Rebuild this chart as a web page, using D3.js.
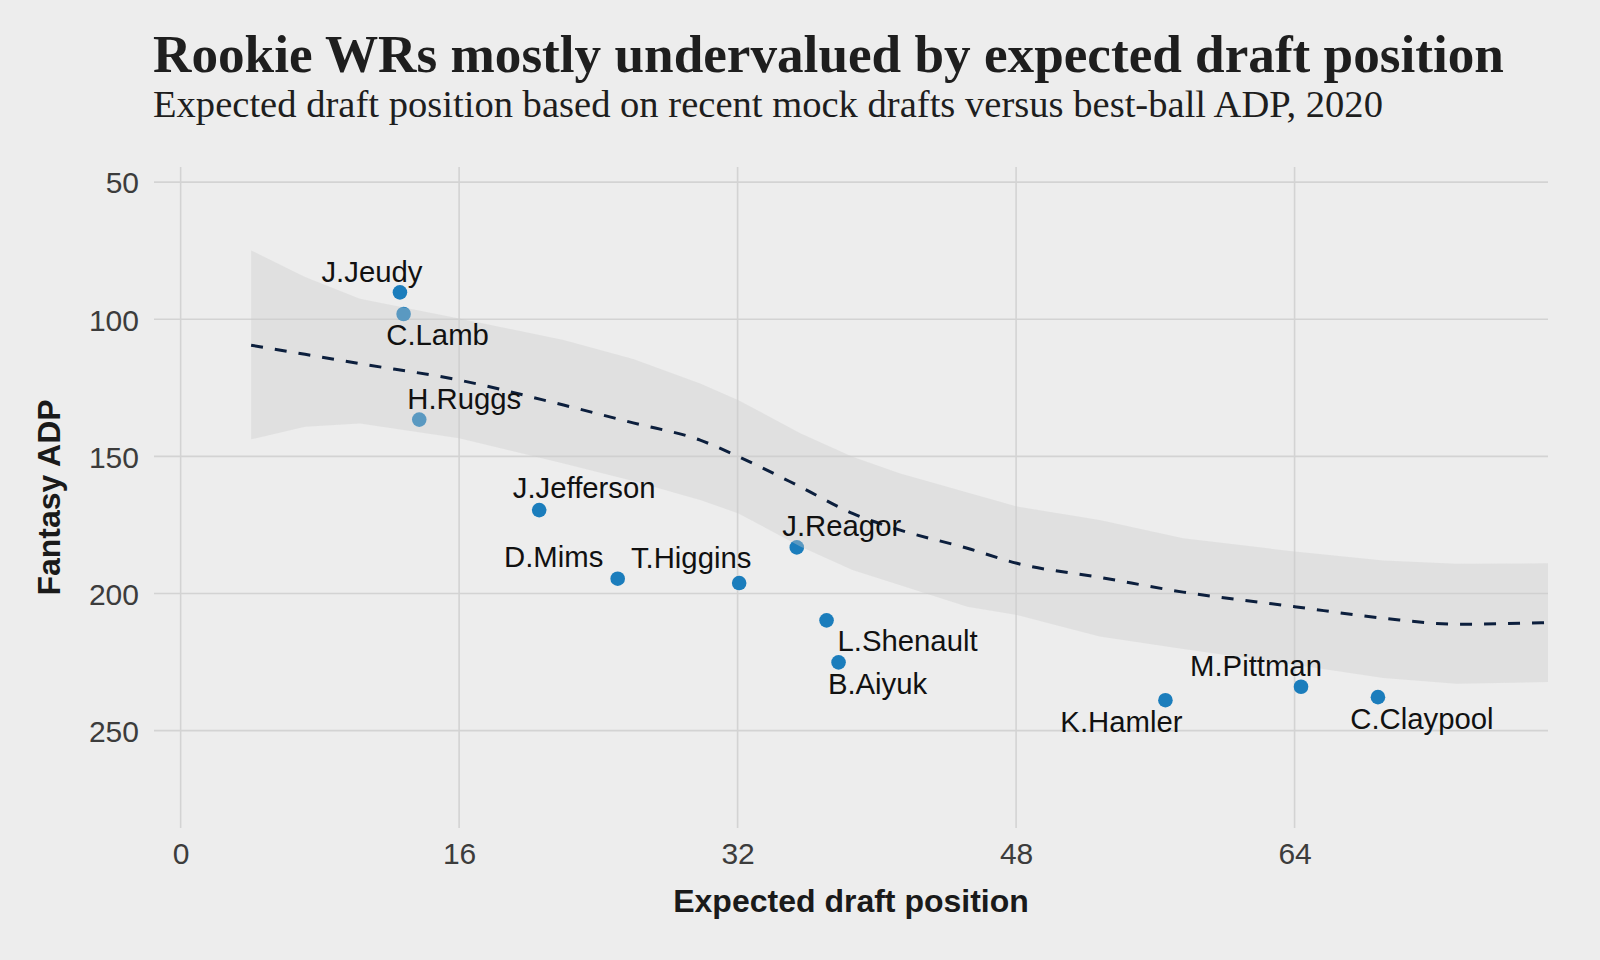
<!DOCTYPE html>
<html>
<head>
<meta charset="utf-8">
<script src="https://cdnjs.cloudflare.com/ajax/libs/d3/7.8.5/d3.min.js"></script>
<style>
  html, body { margin: 0; padding: 0; background: #ededed; }
  svg { display: block; }
</style>
</head>
<body>
<svg id="chart" width="1600" height="960"></svg>
<script>
// ---- data ----
const players   = ["J.Jeudy","C.Lamb","H.Ruggs","J.Jefferson","D.Mims","T.Higgins","J.Reagor","L.Shenault","B.Aiyuk","K.Hamler","M.Pittman","C.Claypool"];
const expected  = [12.60, 12.81, 13.71, 20.60, 25.11, 32.09, 35.40, 37.11, 37.80, 56.58, 64.37, 68.79];
const fantasyAdp = [90.2, 98.1, 136.6, 169.6, 194.6, 196.2, 183.2, 209.8, 225.1, 238.9, 234.0, 237.8];

// loess smooth
const smoothX   = [4.05, 7.15, 10.3, 16, 22, 26, 29.85, 32.05, 35.6, 38.6, 41.3, 45.2, 48.05, 52.8, 57.6, 64, 69.1, 73.3, 78.56];
const smoothFit = [109.5, 112.8, 116.2, 122.2, 131.3, 137.8, 144.1, 150.1, 161.1, 170.8, 176.8, 183.5, 189, 194.1, 199.5, 204.8, 209, 211.2, 210.6];
const smoothHi  = [74.9, 84.6, 92.5, 99.7, 107.6, 114.5, 123.4, 129.5, 141.6, 150.1, 156.2, 163.2, 168.3, 173.2, 179.9, 184.7, 188, 189.2, 189];
const smoothLo  = [143.8, 139.2, 138, 143.4, 152.6, 159, 165.9, 170.8, 182.9, 191.4, 196.9, 204.8, 207.8, 215.7, 220.2, 226, 230.8, 232.9, 232.3];

const xTicks = [0, 16, 32, 48, 64];
const yTicks = [50, 100, 150, 200, 250];

// label placement (pixel offsets from each point, like ggrepel output)
const labelDx = [-28, 34, 45, 45, -64, -48, 45, 81, 39, -44, -45, 44];
const labelDy = [-10, 31, -11, -12, -12, -15, -11, 31, 32, 32, -11, 32];

// ---- layout ----
const svg = d3.select("#chart");
const W = 1600, H = 960;
const panel = { left: 154, right: 1548, top: 167, bottom: 828 };

svg.append("rect").attr("width", W).attr("height", H).attr("fill", "#ededed");

const x = d3.scaleLinear().domain([-1.53, 78.56]).range([panel.left, panel.right]);
const y = d3.scaleLinear().domain([44.5, 285.5]).range([panel.top, panel.bottom]);

// gridlines
const grid = svg.append("g");
grid.selectAll("line.h").data(yTicks).join("line")
  .attr("x1", panel.left).attr("x2", panel.right)
  .attr("y1", d => y(d)).attr("y2", d => y(d))
  .attr("stroke", "#d3d3d3").attr("stroke-width", 1.6);
grid.selectAll("line.v").data(xTicks).join("line")
  .attr("y1", panel.top).attr("y2", panel.bottom)
  .attr("x1", d => x(d)).attr("x2", d => x(d))
  .attr("stroke", "#d3d3d3").attr("stroke-width", 1.6);

// axes (text only)
const xAxis = d3.axisBottom(x).tickValues(xTicks).tickSize(0).tickPadding(0);
const gx = svg.append("g").attr("transform", `translate(0,${panel.bottom})`).call(xAxis);
gx.select(".domain").remove();
gx.selectAll("text")
  .attr("dy", null).attr("y", 36)
  .attr("font-family", "Liberation Sans, Arial, sans-serif")
  .attr("font-size", 30).attr("fill", "#3c3c3c");

const yAxis = d3.axisLeft(y).tickValues(yTicks).tickSize(0).tickPadding(0);
const gy = svg.append("g").attr("transform", `translate(${panel.left - 15},0)`).call(yAxis);
gy.select(".domain").remove();
gy.selectAll("text")
  .attr("x", 0).attr("dy", "0.36em")
  .attr("font-family", "Liberation Sans, Arial, sans-serif")
  .attr("font-size", 30).attr("fill", "#3c3c3c");

// points (drawn under the smoothing band)
const pts = players.map((p, i) => ({ name: p, x: expected[i], y: fantasyAdp[i], dx: labelDx[i], dy: labelDy[i] }));
svg.append("g").selectAll("circle").data(pts).join("circle")
  .attr("cx", d => x(d.x)).attr("cy", d => y(d.y)).attr("r", 7.3)
  .attr("fill", "#1b7dbc");

// smoothing band
const band = smoothX.map((v, i) => ({ x: v, lo: smoothLo[i], hi: smoothHi[i], fit: smoothFit[i] }));
svg.append("path").datum(band)
  .attr("d", d3.area().x(d => x(d.x)).y0(d => y(d.lo)).y1(d => y(d.hi)))
  .attr("fill", "#cbcbcb").attr("fill-opacity", 0.36);

svg.append("path").datum(band)
  .attr("d", d3.line().x(d => x(d.x)).y(d => y(d.fit)).curve(d3.curveMonotoneX))
  .attr("fill", "none").attr("stroke", "#0c1f3d").attr("stroke-width", 3)
  .attr("stroke-dasharray", "12,12");

// labels
svg.append("g").selectAll("text").data(pts).join("text")
  .attr("x", d => x(d.x) + d.dx).attr("y", d => y(d.y) + d.dy)
  .attr("text-anchor", "middle")
  .attr("font-family", "Liberation Sans, Arial, sans-serif")
  .attr("font-size", 29.3).attr("fill", "#111")
  .text(d => d.name);

// axis titles
svg.append("text")
  .attr("x", (panel.left + panel.right) / 2).attr("y", 912)
  .attr("text-anchor", "middle")
  .attr("font-family", "Liberation Sans, Arial, sans-serif")
  .attr("font-weight", "bold").attr("font-size", 32).attr("fill", "#1a1a1a")
  .text("Expected draft position");

svg.append("text")
  .attr("transform", `translate(60,${(panel.top + panel.bottom) / 2}) rotate(-90)`)
  .attr("text-anchor", "middle")
  .attr("font-family", "Liberation Sans, Arial, sans-serif")
  .attr("font-weight", "bold").attr("font-size", 32).attr("fill", "#1a1a1a")
  .text("Fantasy ADP");

// titles
svg.append("text")
  .attr("x", 153).attr("y", 72)
  .attr("font-family", "Liberation Serif, Times New Roman, serif")
  .attr("font-weight", "bold").attr("font-size", 53.2).attr("fill", "#1e1e1e")
  .text("Rookie WRs mostly undervalued by expected draft position");

svg.append("text")
  .attr("x", 153).attr("y", 117)
  .attr("font-family", "Liberation Serif, Times New Roman, serif")
  .attr("font-size", 38.6).attr("fill", "#1e1e1e")
  .text("Expected draft position based on recent mock drafts versus best-ball ADP, 2020");
</script>
</body>
</html>
